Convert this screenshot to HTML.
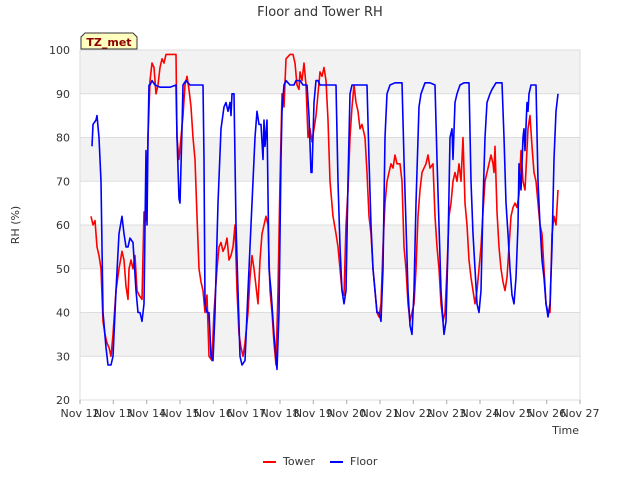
<!DOCTYPE html>
<html><head><meta charset="utf-8"><style>
body{margin:0;background:#fff;font-family:"Liberation Sans",sans-serif}
svg text{font-family:"DejaVu Sans","Liberation Sans",sans-serif}
</style></head><body>
<svg id="c" width="640" height="480"></svg>
<script>
const floorT=[0.36,.39,.48,.51,.57,.63,.69,.78,.84,.93,.99,1.08,1.17,1.26,1.32,1.38,1.44,1.5,1.59,1.68,1.74,1.8,1.86,1.92,1.98,2.01,2.04,2.07,2.1,2.16,2.25,2.4,2.7,2.88,2.91,2.97,3.0,3.06,3.09,3.18,3.3,3.69,3.72,3.75,3.81,3.87,3.93,3.99,4.05,4.14,4.23,4.32,4.38,4.44,4.5,4.53,4.56,4.62,4.68,4.74,4.8,4.86,4.95,5.04,5.16,5.25,5.31,5.37,5.43,5.49,5.52,5.55,5.61,5.67,5.73,5.82,5.91,5.97,6.03,6.06,6.12,6.18,6.3,6.42,6.48,6.6,6.69,6.81,6.87,6.93,6.96,7.02,7.08,7.14,7.2,7.35,7.5,7.68,7.74,7.8,7.86,7.92,7.98,8.04,8.1,8.16,8.28,8.4,8.61,8.67,8.73,8.79,8.85,8.91,8.97,9.03,9.09,9.15,9.21,9.3,9.45,9.66,9.72,9.78,9.84,9.9,9.96,10.02,10.08,10.17,10.23,10.35,10.5,10.65,10.71,10.77,10.83,10.89,10.92,10.98,11.04,11.1,11.16,11.19,11.25,11.31,11.4,11.52,11.67,11.73,11.79,11.85,11.91,11.97,12.03,12.09,12.15,12.21,12.3,12.36,12.48,12.66,12.72,12.78,12.84,12.9,12.96,13.02,13.08,13.14,13.17,13.23,13.29,13.32,13.35,13.41,13.44,13.47,13.53,13.68,13.74,13.8,13.86,13.92,13.98,14.04,14.1,14.16,14.22,14.28,14.34];
const floorV=[78,83,84,85,80,70,40,32,28,28,30,45,58,62,58,55,55,57,56,45,40,40,38,42,77,60,80,92,92,93,92,91.5,91.5,92,80,66,65,82,92,93,92,92,75,42,40,40,30,29,40,65,82,87,88,86,88,85,90,90,60,45,30,28,29,45,65,80,86,83,83,75,84,78,84,50,45,35,27,40,75,86,92,93,92,92,93,93,92,92,85,72,72,88,93,93,92,92,92,92,70,55,45,42,45,70,90,92,92,92,92,75,60,50,45,40,40,38,50,80,90,92,92.5,92.5,75,60,45,37,35,45,65,87,90,92.5,92.5,92,75,60,45,38,35,38,55,80,82,75,88,90,92,92.5,92.5,70,58,50,42,40,45,65,80,88,90,91,92.5,92.5,80,65,58,50,44,42,48,60,74,68,80,82,77,88,86,90,92,92,70,60,52,48,42,39,42,55,75,86,90];
const towerT=[.33,.39,.45,.51,.57,.63,.69,.75,.81,.87,.93,.99,1.08,1.17,1.26,1.32,1.38,1.44,1.47,1.53,1.59,1.65,1.71,1.77,1.86,1.92,1.98,2.04,2.1,2.16,2.22,2.28,2.34,2.4,2.46,2.52,2.58,2.7,2.88,2.91,2.97,3.03,3.09,3.15,3.21,3.27,3.33,3.39,3.45,3.51,3.57,3.63,3.69,3.75,3.81,3.87,3.96,4.02,4.11,4.17,4.23,4.29,4.35,4.41,4.47,4.53,4.59,4.65,4.71,4.77,4.83,4.89,4.95,5.04,5.1,5.16,5.22,5.28,5.34,5.4,5.46,5.52,5.58,5.64,5.7,5.76,5.82,5.88,5.94,6.0,6.06,6.12,6.18,6.3,6.39,6.45,6.51,6.57,6.6,6.66,6.72,6.78,6.84,6.9,6.96,7.02,7.08,7.14,7.2,7.26,7.32,7.38,7.44,7.5,7.59,7.68,7.74,7.8,7.86,7.92,7.98,8.04,8.1,8.16,8.22,8.28,8.34,8.4,8.46,8.55,8.61,8.67,8.73,8.79,8.85,8.91,8.97,9.03,9.09,9.15,9.21,9.27,9.33,9.39,9.45,9.51,9.6,9.66,9.72,9.78,9.84,9.9,9.96,10.02,10.08,10.14,10.2,10.26,10.32,10.38,10.44,10.5,10.59,10.65,10.71,10.77,10.83,10.89,10.95,11.01,11.07,11.13,11.19,11.25,11.31,11.37,11.43,11.49,11.55,11.61,11.67,11.73,11.79,11.85,11.91,11.97,12.03,12.09,12.15,12.21,12.27,12.33,12.39,12.42,12.45,12.51,12.57,12.63,12.69,12.75,12.81,12.87,12.93,12.99,13.05,13.11,13.17,13.23,13.29,13.35,13.44,13.5,13.56,13.62,13.68,13.74,13.8,13.86,13.92,13.98,14.04,14.1,14.16,14.22,14.28,14.34];
const towerV=[62,60,61,55,53,50,38,35,33,32,30,35,45,50,54,52,46,43,50,52,50,53,45,44,43,63,61,80,93,97,96,90,92,96,98,97,99,99,99,80,75,80,85,92,94,91,87,80,75,62,50,47,45,40,44,30,29,40,50,55,56,54,55,57,52,53,55,60,45,35,32,30,33,40,48,53,50,46,42,52,58,60,62,60,45,40,33,28,45,70,90,87,98,99,99,97,92,91,95,93,97,92,80,82,79,82,85,90,95,94,96,93,84,70,62,58,55,50,45,44,60,68,80,87,92,88,86,82,83,80,72,62,58,50,45,40,39,42,55,65,70,72,74,73,76,74,74,70,55,50,42,38,40,42,50,62,68,72,73,74,76,73,74,62,55,50,42,38,40,50,62,65,70,72,70,74,70,80,65,60,52,48,45,42,45,50,55,63,70,72,74,76,74,72,78,63,55,50,47,45,48,55,62,64,65,64,67,77,70,68,82,85,78,72,70,65,60,58,50,42,40,40,58,62,60,68];
const xTicks=["Nov 12","Nov 13","Nov 14","Nov 15","Nov 16","Nov 17","Nov 18","Nov 19","Nov 20","Nov 21","Nov 22","Nov 23","Nov 24","Nov 25","Nov 26","Nov 27"];
const yTicks=[20,30,40,50,60,70,80,90,100];

const L=80,R=580,T=50,B=400;
const xs=d=>L+d*(R-L)/15;
const ys=v=>B-(v-20)*(B-T)/80;
const svg=document.getElementById('c');
const NS='http://www.w3.org/2000/svg';
function mk(tag,at,parent){const e=document.createElementNS(NS,tag);for(const k in at)e.setAttribute(k,at[k]);(parent||svg).appendChild(e);return e;}
// bands
for(let i=0;i<yTicks.length-1;i++){
  const r=mk('rect',{x:L,y:ys(yTicks[i+1]),width:R-L,height:ys(yTicks[i])-ys(yTicks[i+1]),fill:(i%2==1)?'#f2f2f2':'#ffffff'});
  
  
}
yTicks.forEach(v=>{
  const g=mk('line',{x1:L,x2:R,y1:ys(v),y2:ys(v),stroke:'#dddddd','stroke-width':1});
  
  
  const t=mk('text',{x:L-10,y:ys(v)+4,'text-anchor':'end','font-size':11,fill:'#333'});
  t.textContent=v;
  
  
});
const fr=mk('rect',{x:L,y:T,width:R-L,height:B-T,fill:'none',stroke:'#dddddd'});


xTicks.forEach((s,i)=>{
  const tk=mk('line',{x1:xs(i),x2:xs(i),y1:B,y2:B+4,stroke:'#aaa'});
  
  
  const t=mk('text',{x:xs(i),y:B+17,'text-anchor':'middle','font-size':11,fill:'#333'});
  t.textContent=s;
  
  
});
function line(T_,V_,col,name){
  const d=T_.map((t,i)=>(i?'L':'M')+xs(t).toFixed(1)+','+ys(V_[i]).toFixed(1)).join('');
  const p=mk('path',{d:d,fill:'none',stroke:col,'stroke-width':1.6,'stroke-linejoin':'round'});
  
  
}
line(towerT,towerV,'#ff0000','tower-line');
line(floorT,floorV,'#0000ff','floor-line');
</script>
<svg width="640" height="480" style="position:absolute;left:0;top:0">
<text x="320" y="16" text-anchor="middle" font-size="13" fill="#333">Floor and Tower RH</text>
<text x="19" y="225" text-anchor="middle" font-size="11" fill="#333" transform="rotate(-90 19 225)">RH (%)</text>
<text x="579" y="434" text-anchor="end" font-size="11" fill="#333">Time</text>
<path d="M81,49 L81,37 L85,33 L133,33 L137,37 L137,49 Z" fill="#ffffc0" stroke="#333"/>
<text x="109" y="46" text-anchor="middle" font-size="11" font-weight="bold" fill="#8b0000">TZ_met</text>
<line x1="263" y1="462" x2="276" y2="462" stroke="#ff0000" stroke-width="2"/>
<text x="283" y="465" font-size="11" fill="#333">Tower</text>
<line x1="330" y1="462" x2="343" y2="462" stroke="#0000ff" stroke-width="2"/>
<text x="350" y="465" font-size="11" fill="#333">Floor</text>
</svg>
</body></html>
